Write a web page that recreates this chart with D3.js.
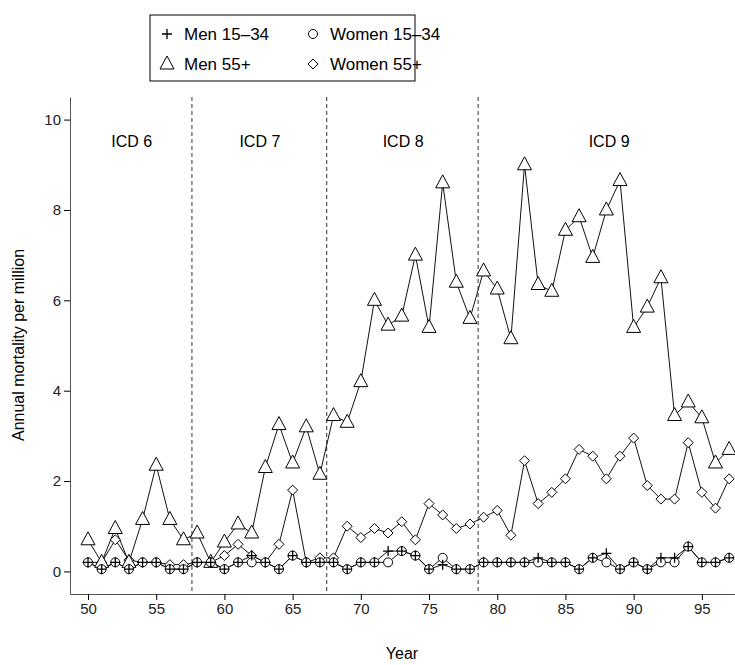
<!DOCTYPE html><html><head><script src="https://cdn.jsdelivr.net/npm/d3@7"></script>
<style>body{margin:0;background:#fff}text{font-family:Arial,"Liberation Sans",sans-serif}</style></head><body><svg id="c" width="735" height="665"></svg><script>
const years=d3.range(50,98);
const men55=[0.7,0.2,0.95,0.2,1.15,2.35,1.15,0.7,0.85,0.2,0.65,1.05,0.85,2.3,3.25,2.4,3.2,2.15,3.45,3.3,4.2,6.0,5.45,5.65,7.0,5.4,8.6,6.4,5.6,6.65,6.25,5.15,9.0,6.35,6.2,7.55,7.85,6.95,8.0,8.65,5.4,5.85,6.5,3.45,3.75,3.4,2.4,2.7];
const women55=[0.2,0.2,0.7,0.25,0.2,0.2,0.15,0.15,0.2,0.2,0.35,0.6,0.35,0.2,0.6,1.8,0.2,0.3,0.3,1.0,0.75,0.95,0.85,1.1,0.7,1.5,1.25,0.95,1.05,1.2,1.35,0.8,2.45,1.5,1.75,2.05,2.7,2.55,2.05,2.55,2.95,1.9,1.6,1.6,2.85,1.75,1.4,2.05];
const men1534=[0.2,0.05,0.2,0.05,0.2,0.2,0.05,0.05,0.2,0.2,0.05,0.2,0.35,0.2,0.05,0.35,0.2,0.2,0.2,0.05,0.2,0.2,0.45,0.45,0.35,0.05,0.15,0.05,0.05,0.2,0.2,0.2,0.2,0.3,0.2,0.2,0.05,0.3,0.4,0.05,0.2,0.05,0.3,0.3,0.55,0.2,0.2,0.3];
const women1534=[0.2,0.05,0.2,0.05,0.2,0.2,0.05,0.05,0.2,0.2,0.05,0.2,0.2,0.2,0.05,0.35,0.2,0.2,0.2,0.05,0.2,0.2,0.2,0.45,0.35,0.05,0.3,0.05,0.05,0.2,0.2,0.2,0.2,0.2,0.2,0.2,0.05,0.3,0.2,0.05,0.2,0.05,0.2,0.2,0.55,0.2,0.2,0.3];
const xTicks=[50,55,60,65,70,75,80,85,90,95];
const yTicks=[0,2,4,6,8,10];
const icdBreaks=[57.62,67.5,78.6];
const icdLabels=[{t:"ICD 6",x:53.2},{t:"ICD 7",x:62.6},{t:"ICD 8",x:73.1},{t:"ICD 9",x:88.2}];
const svg=d3.select("#c");
const x=d3.scaleLinear().domain([48.68,97.43]).range([70,735]);
const y=d3.scaleLinear().domain([-0.5,10.5]).range([594,97]);
const g=svg.append("g");
g.append("g").attr("transform","translate(0,594)").call(d3.axisBottom(x).tickValues(xTicks).tickSize(6).tickSizeOuter(0)).call(a=>a.selectAll("text").attr("font-size",15).attr("fill","#222"));
g.append("g").attr("transform","translate(70,0)").call(d3.axisLeft(y).tickValues(yTicks).tickSize(6).tickSizeOuter(0)).call(a=>a.selectAll("text").attr("font-size",15).attr("fill","#222"));
g.selectAll(".domain").attr("stroke","#555");
svg.append("text").attr("x",402).attr("y",659).attr("text-anchor","middle").attr("font-size",16).text("Year");
svg.append("text").attr("transform","translate(24,345) rotate(-90)").attr("text-anchor","middle").attr("font-size",16).text("Annual mortality per million");
icdBreaks.forEach(b=>svg.append("line").attr("x1",x(b)).attr("x2",x(b)).attr("y1",y(10.5)).attr("y2",594).attr("stroke","#333").attr("stroke-dasharray","4,3"));
icdLabels.forEach(l=>svg.append("text").attr("x",x(l.x)).attr("y",147).attr("text-anchor","middle").attr("font-size",16).text(l.t));
const line=d3.line().x((d,i)=>x(years[i])).y(d=>y(d));
function sym(sel,type,xx,yy){
 if(type==="tri") sel.append("path").attr("d",`M${xx},${yy-8}L${xx+7},${yy+5}L${xx-7},${yy+5}Z`).attr("fill","#fff").attr("stroke","#000");
 if(type==="dia") sel.append("path").attr("d",`M${xx},${yy-5}L${xx+5},${yy}L${xx},${yy+5}L${xx-5},${yy}Z`).attr("fill","#fff").attr("stroke","#000");
 if(type==="circ") sel.append("circle").attr("cx",xx).attr("cy",yy).attr("r",4.5).attr("fill","#fff").attr("stroke","#000");
 if(type==="plus") sel.append("path").attr("d",`M${xx-5},${yy}H${xx+5}M${xx},${yy-5}V${yy+5}`).attr("stroke","#000").attr("stroke-width",1.3);
}
const series=[[women55,"dia"],[men55,"tri"],[women1534,"circ"],[men1534,"plus"]];
series.forEach(([d,t])=>{
 svg.append("path").datum(d).attr("d",line).attr("fill","none").attr("stroke","#111").attr("stroke-width",1);
});
series.forEach(([d,t])=>{const gg=svg.append("g");d.forEach((v,i)=>sym(gg,t,x(years[i]),y(v)));});
const lg=svg.append("g");
lg.append("rect").attr("x",150).attr("y",15).attr("width",265).attr("height",66).attr("fill","#fff").attr("stroke","#000");
[["plus","Men 15–34",167,34],["circ","Women 15–34",313,34],["tri","Men 55+",167,64],["dia","Women 55+",313,64]].forEach(([t,s,lx,ly])=>{
 sym(lg,t,lx,ly);
 lg.append("text").attr("x",lx+17).attr("y",ly+6).attr("font-size",17).text(s);
});
</script></body></html>
